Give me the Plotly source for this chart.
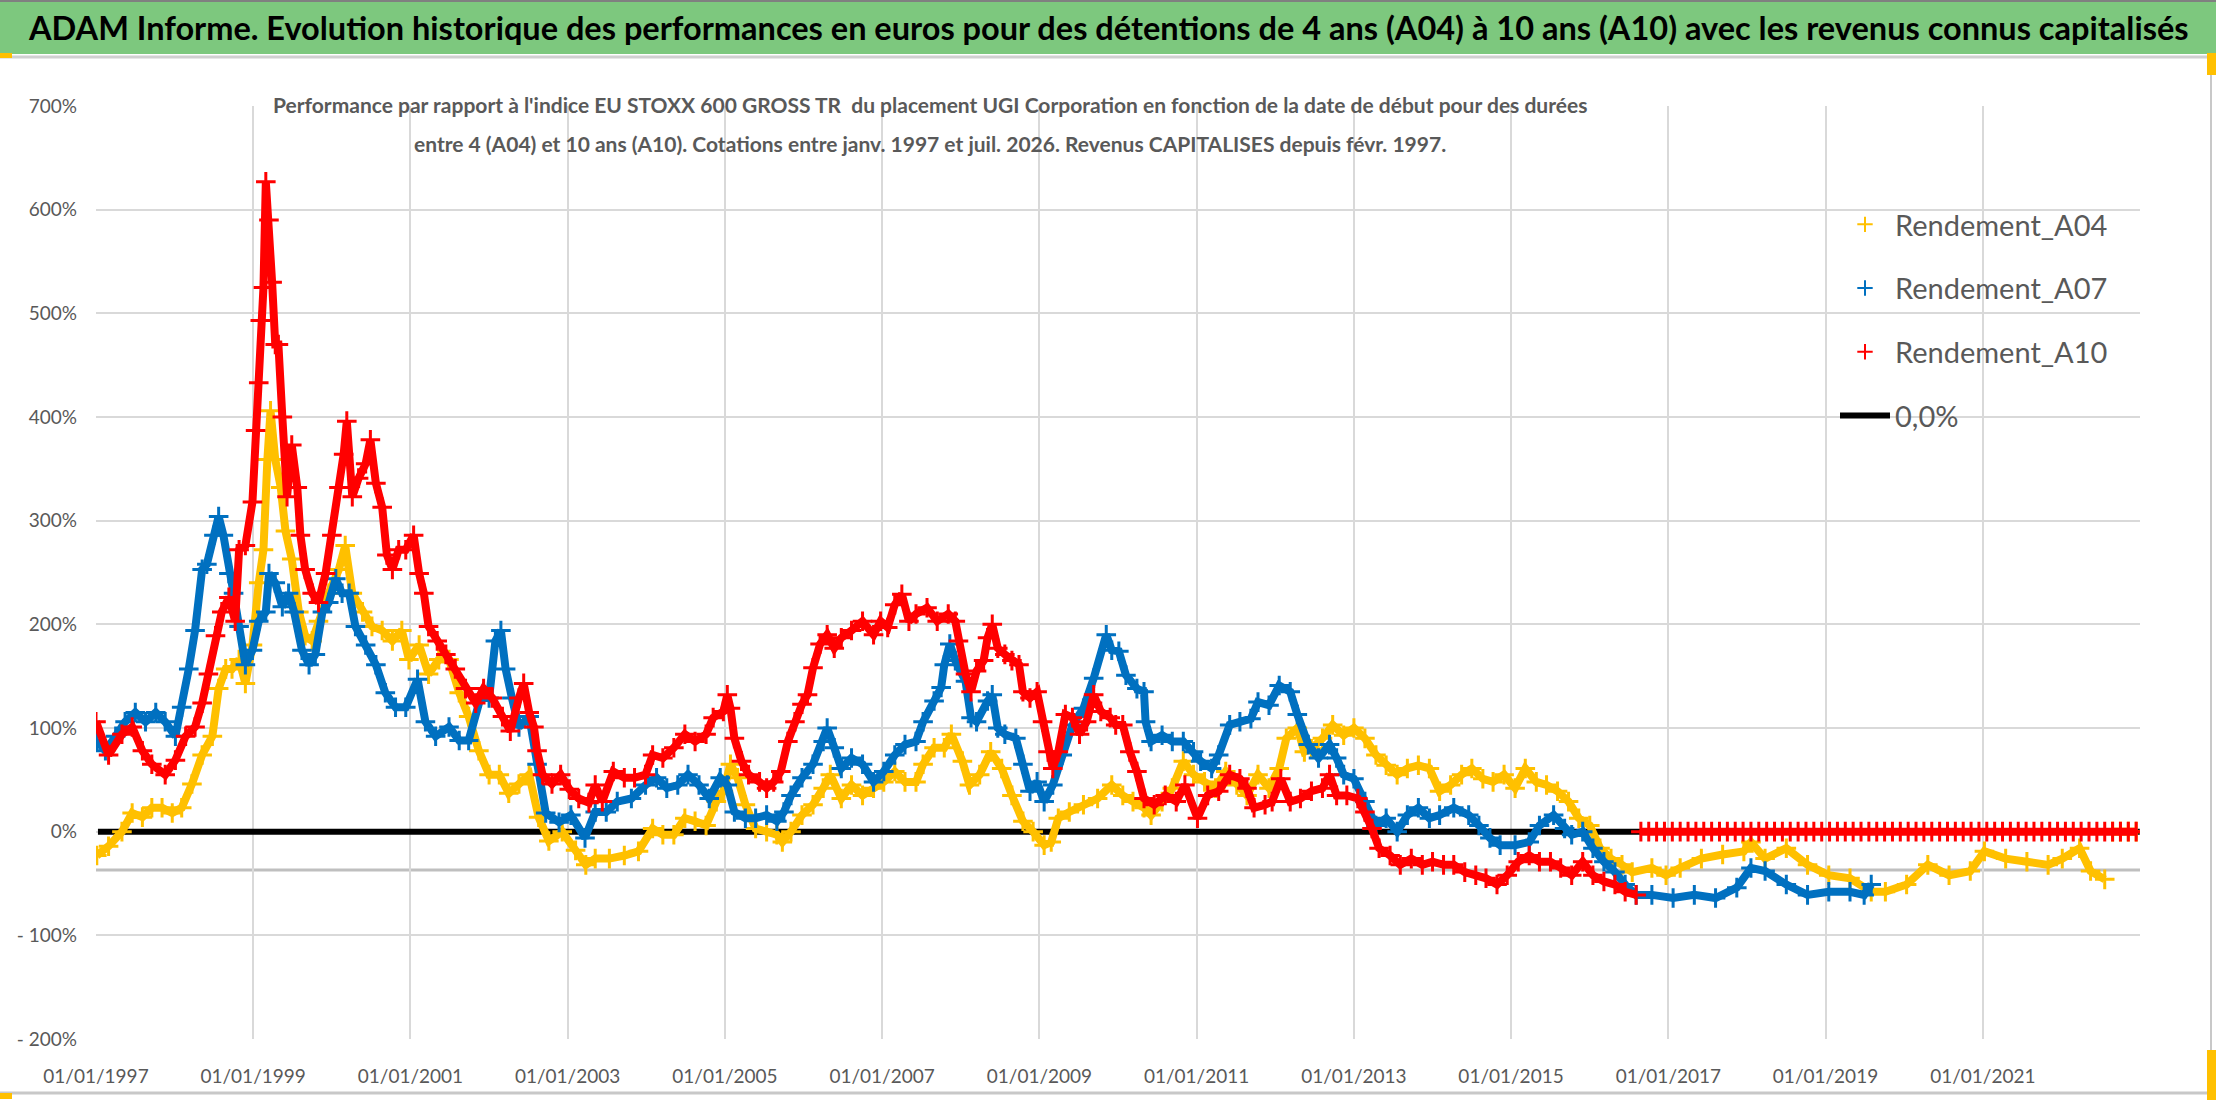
import pandas as pd
import plotly.graph_objects as go

# (years after 01/01/1997, performance in %)
a04 = [(0.01, -23), (0.16, -14), (0.33, 0), (0.46, 18), (0.59, 14), (0.71, 23), (0.84, 23), (0.97, 18),
       (1.09, 23), (1.22, 46), (1.35, 74), (1.48, 92), (1.56, 138), (1.65, 157), (1.73, 157), (1.82, 166),
       (1.90, 143), (1.99, 180), (2.07, 240), (2.13, 272), (2.18, 359), (2.22, 406), (2.28, 359), (2.35, 332),
       (2.41, 290), (2.49, 263), (2.58, 212), (2.66, 189), (2.75, 184), (2.83, 203), (2.96, 230), (3.09, 253),
       (3.17, 276), (3.26, 230), (3.39, 212), (3.51, 198), (3.64, 194), (3.77, 184), (3.89, 194), (3.98, 166),
       (4.11, 180), (4.23, 152), (4.36, 166), (4.49, 166), (4.62, 134), (4.74, 111), (4.87, 78), (5.00, 55),
       (5.13, 55), (5.25, 37), (5.38, 46), (5.51, 55), (5.63, 14), (5.76, -9), (5.93, 0), (6.10, -18),
       (6.23, -32), (6.35, -26), (6.53, -26), (6.72, -23), (6.90, -19), (7.08, 3), (7.21, -3), (7.35, -3),
       (7.49, 13), (7.62, 10), (7.76, 6), (7.89, 29), (7.98, 39), (8.07, 65), (8.16, 52), (8.26, 26),
       (8.39, 3), (8.53, 0), (8.66, -3), (8.73, -10), (8.84, 0), (8.98, 16), (9.12, 26), (9.25, 42),
       (9.34, 55), (9.48, 32), (9.61, 45), (9.75, 35), (9.89, 42), (10.02, 48), (10.16, 58), (10.29, 48),
       (10.43, 48), (10.52, 65), (10.66, 81), (10.79, 81), (10.88, 94), (11.02, 68), (11.11, 45), (11.24, 55),
       (11.38, 77), (11.52, 61), (11.65, 35), (11.79, 10), (11.92, 0), (12.06, -13), (12.15, -10), (12.24, 13),
       (12.38, 19), (12.56, 26), (12.74, 32), (12.92, 45), (13.06, 35), (13.19, 29), (13.33, 23), (13.42, 16),
       (13.56, 29), (13.69, 42), (13.83, 68), (13.96, 55), (14.10, 48), (14.24, 42), (14.37, 58), (14.51, 45),
       (14.64, 35), (14.78, 55), (14.92, 42), (15.05, 61), (15.14, 90), (15.28, 100), (15.37, 77), (15.46, 80),
       (15.60, 90), (15.73, 103), (15.87, 93), (16.00, 100), (16.14, 90), (16.28, 74), (16.41, 64), (16.55, 55),
       (16.68, 61), (16.82, 64), (16.96, 61), (17.09, 39), (17.23, 45), (17.37, 55), (17.50, 61), (17.64, 51),
       (17.77, 48), (17.91, 55), (18.05, 42), (18.18, 61), (18.32, 48), (18.45, 45), (18.59, 39), (18.73, 29),
       (18.86, 13), (19.00, 6), (19.13, -16), (19.27, -26), (19.41, -32), (19.54, -39), (19.79, -35), (19.97, -42),
       (20.15, -35), (20.42, -26), (20.69, -22), (20.96, -19), (21.05, -10), (21.23, -26), (21.50, -16), (21.77, -32),
       (22.04, -42), (22.31, -45), (22.58, -58), (22.76, -58), (23.03, -51), (23.30, -32), (23.57, -42), (23.84, -38),
       (24.02, -19), (24.29, -26), (24.56, -29), (24.83, -32), (25.01, -26), (25.23, -16), (25.37, -38), (25.55, -46)]
a04_tail = [(25.65, 0), (25.75, 0), (25.85, 0), (25.95, 0)]

a07 = [(0.01, 88), (0.12, 78), (0.25, 92), (0.37, 106), (0.50, 115), (0.63, 106), (0.76, 115), (0.88, 106),
       (1.01, 92), (1.09, 120), (1.18, 157), (1.26, 194), (1.35, 253), (1.41, 258), (1.50, 286), (1.56, 304),
       (1.62, 286), (1.69, 249), (1.75, 230), (1.82, 198), (1.90, 161), (1.99, 175), (2.07, 203), (2.16, 212),
       (2.20, 249), (2.28, 240), (2.37, 217), (2.45, 230), (2.52, 212), (2.62, 175), (2.71, 161), (2.79, 171),
       (2.88, 212), (2.96, 221), (3.05, 244), (3.13, 230), (3.22, 230), (3.30, 198), (3.43, 180), (3.56, 161),
       (3.68, 134), (3.81, 120), (3.94, 120), (4.09, 147), (4.19, 106), (4.32, 92), (4.49, 101), (4.62, 88),
       (4.74, 88), (4.89, 129), (5.00, 129), (5.08, 184), (5.15, 194), (5.21, 157), (5.29, 129), (5.38, 101),
       (5.51, 111), (5.61, 65), (5.72, 18), (5.89, 9), (6.04, 16), (6.22, -6), (6.35, 19), (6.49, 19),
       (6.63, 29), (6.81, 32), (6.99, 45), (7.13, 52), (7.26, 42), (7.40, 45), (7.53, 55), (7.67, 45),
       (7.80, 32), (7.94, 52), (8.03, 45), (8.12, 19), (8.26, 13), (8.39, 13), (8.53, 16), (8.66, 10),
       (8.75, 19), (8.84, 35), (8.98, 52), (9.12, 65), (9.25, 87), (9.30, 100), (9.39, 81), (9.48, 61),
       (9.61, 71), (9.75, 65), (9.89, 48), (10.02, 58), (10.16, 74), (10.29, 84), (10.43, 87), (10.52, 106),
       (10.66, 126), (10.75, 139), (10.79, 161), (10.86, 181), (10.93, 165), (11.06, 145), (11.13, 110), (11.20, 106),
       (11.34, 126), (11.40, 132), (11.47, 100), (11.56, 94), (11.70, 90), (11.79, 65), (11.88, 39), (11.97, 48),
       (12.06, 29), (12.17, 45), (12.29, 74), (12.42, 103), (12.56, 119), (12.69, 148), (12.85, 190), (12.92, 175),
       (13.01, 174), (13.10, 151), (13.24, 138), (13.33, 135), (13.35, 106), (13.42, 87), (13.56, 93), (13.69, 87),
       (13.83, 87), (13.96, 77), (14.05, 68), (14.19, 61), (14.28, 74), (14.42, 103), (14.55, 106), (14.69, 109),
       (14.78, 125), (14.92, 122), (15.05, 141), (15.19, 135), (15.28, 113), (15.42, 84), (15.55, 71), (15.69, 84),
       (15.78, 71), (15.87, 55), (16.00, 51), (16.14, 29), (16.28, 6), (16.41, 13), (16.55, 0), (16.68, 16),
       (16.82, 23), (16.96, 13), (17.09, 16), (17.27, 23), (17.46, 16), (17.59, 6), (17.73, -6), (17.86, -13),
       (18.05, -13), (18.23, -10), (18.36, 6), (18.54, 16), (18.68, 3), (18.77, -3), (18.91, 0), (19.04, -16),
       (19.18, -29), (19.32, -39), (19.45, -51), (19.59, -61), (19.79, -61), (20.06, -64), (20.33, -61), (20.60, -64),
       (20.87, -54), (21.05, -35), (21.23, -38), (21.50, -51), (21.77, -61), (22.04, -58), (22.31, -58), (22.49, -61),
       (22.58, -51)]

a10 = [(0.00, 106), (0.16, 74), (0.33, 94), (0.46, 101), (0.59, 78), (0.71, 65), (0.88, 55), (1.01, 69),
       (1.14, 92), (1.26, 101), (1.35, 124), (1.43, 152), (1.52, 189), (1.60, 212), (1.69, 226), (1.77, 203),
       (1.82, 272), (1.90, 276), (1.99, 318), (2.03, 387), (2.07, 433), (2.09, 493), (2.13, 525), (2.16, 627),
       (2.20, 590), (2.24, 530), (2.28, 470), (2.32, 470), (2.37, 400), (2.43, 323), (2.49, 373), (2.56, 332),
       (2.60, 286), (2.66, 253), (2.75, 230), (2.83, 221), (2.92, 249), (3.00, 286), (3.09, 332), (3.15, 364),
       (3.19, 396), (3.26, 323), (3.34, 341), (3.43, 355), (3.49, 378), (3.56, 336), (3.64, 313), (3.70, 267),
       (3.77, 253), (3.85, 272), (3.94, 272), (4.04, 286), (4.11, 249), (4.17, 230), (4.23, 198), (4.34, 184),
       (4.45, 171), (4.57, 157), (4.70, 138), (4.83, 124), (4.93, 138), (5.04, 129), (5.17, 111), (5.27, 97),
       (5.38, 129), (5.44, 143), (5.51, 115), (5.57, 101), (5.61, 78), (5.68, 55), (5.80, 46), (5.91, 55),
       (6.02, 41), (6.14, 32), (6.27, 28), (6.35, 45), (6.44, 29), (6.58, 58), (6.72, 52), (6.85, 52),
       (6.99, 55), (7.08, 74), (7.21, 71), (7.35, 81), (7.49, 94), (7.62, 87), (7.76, 94), (7.85, 110),
       (7.98, 116), (8.03, 132), (8.07, 119), (8.12, 90), (8.21, 68), (8.30, 55), (8.44, 48), (8.53, 42),
       (8.62, 48), (8.71, 58), (8.80, 87), (8.89, 106), (8.98, 123), (9.05, 132), (9.12, 158), (9.21, 181),
       (9.30, 190), (9.39, 177), (9.48, 187), (9.61, 194), (9.75, 203), (9.89, 190), (9.98, 203), (10.07, 197),
       (10.16, 219), (10.25, 229), (10.34, 203), (10.43, 210), (10.57, 216), (10.70, 203), (10.84, 210), (10.93, 203),
       (10.97, 184), (11.06, 152), (11.13, 135), (11.20, 155), (11.29, 165), (11.34, 187), (11.40, 200), (11.47, 177),
       (11.56, 171), (11.65, 165), (11.74, 161), (11.79, 135), (11.88, 129), (11.97, 135), (12.04, 106), (12.11, 77),
       (12.17, 61), (12.24, 77), (12.33, 113), (12.42, 110), (12.51, 94), (12.60, 106), (12.69, 132), (12.78, 116),
       (12.90, 110), (12.97, 103), (13.06, 103), (13.15, 77), (13.24, 58), (13.33, 32), (13.46, 26), (13.60, 35),
       (13.74, 29), (13.85, 45), (14.01, 13), (14.14, 35), (14.28, 39), (14.42, 55), (14.55, 51), (14.64, 42),
       (14.73, 23), (14.87, 26), (14.96, 29), (15.07, 51), (15.19, 29), (15.32, 32), (15.46, 39), (15.60, 42),
       (15.69, 55), (15.78, 35), (15.91, 35), (16.05, 32), (16.14, 19), (16.23, 3), (16.32, -16), (16.46, -23),
       (16.59, -32), (16.73, -26), (16.87, -32), (17.00, -29), (17.14, -32), (17.27, -32), (17.41, -39), (17.55, -42),
       (17.68, -45), (17.82, -51), (17.95, -42), (18.09, -29), (18.23, -23), (18.36, -29), (18.50, -29), (18.63, -35),
       (18.77, -42), (18.91, -29), (19.04, -42), (19.18, -48), (19.32, -51), (19.45, -58), (19.59, -61)]
a10_tail = [(19.65, 0), (19.75, 0), (19.85, 0), (19.95, 0), (20.05, 0), (20.15, 0), (20.25, 0), (20.35, 0),
            (20.45, 0), (20.55, 0), (20.65, 0), (20.75, 0), (20.85, 0), (20.95, 0), (21.05, 0), (21.15, 0),
            (21.25, 0), (21.35, 0), (21.45, 0), (21.55, 0), (21.65, 0), (21.75, 0), (21.85, 0), (21.95, 0),
            (22.05, 0), (22.15, 0), (22.25, 0), (22.35, 0), (22.45, 0), (22.55, 0), (22.65, 0), (22.75, 0),
            (22.85, 0), (22.95, 0), (23.05, 0), (23.15, 0), (23.25, 0), (23.35, 0), (23.45, 0), (23.55, 0),
            (23.65, 0), (23.75, 0), (23.85, 0), (23.95, 0), (24.05, 0), (24.15, 0), (24.25, 0), (24.35, 0),
            (24.45, 0), (24.55, 0), (24.65, 0), (24.75, 0), (24.85, 0), (24.95, 0), (25.05, 0), (25.15, 0),
            (25.25, 0), (25.35, 0), (25.45, 0), (25.55, 0), (25.65, 0), (25.75, 0), (25.85, 0), (25.95, 0)]

zero_dates = ["1997-01-10", "2022-12-31"]
zero_values = [0, 0]
axis_cross = -37

x_tick_labels = ["01/01/1997", "01/01/1999", "01/01/2001", "01/01/2003", "01/01/2005", "01/01/2007",
                 "01/01/2009", "01/01/2011", "01/01/2013", "01/01/2015", "01/01/2017", "01/01/2019",
                 "01/01/2021"]
y_tick_vals = [-200, -100, 0, 100, 200, 300, 400, 500, 600, 700]
y_tick_labels = ["- 200%", "- 100%", "0%", "100%", "200%", "300%", "400%", "500%", "600%", "700%"]

names = ["Rendement_A04", "Rendement_A07", "Rendement_A10"]
colors = ["#FFC000", "#0070C0", "#FF0000"]

title = ("ADAM Informe. Evolution historique des performances en euros pour des détentions "
         "de 4 ans (A04) à 10 ans (A10) avec les revenus connus capitalisés")
subtitle_1 = ("Performance par rapport à l'indice EU STOXX 600 GROSS TR  du placement UGI Corporation "
              "en fonction de la date de début pour des durées")
subtitle_2 = ("entre 4 (A04) et 10 ans (A10). Cotations entre janv. 1997 et juil. 2026. "
              "Revenus CAPITALISES depuis févr. 1997.")

FONT = "Lato, Roboto, sans-serif"
GREY = "#595959"

W, H = 2216, 1102
ML, MR, MT, MB = 96, 76, 106, 63
PW, PH = W - ML - MR, H - MT - MB
START = pd.Timestamp("1997-01-01")


def dates(points):
    return [START + pd.Timedelta(days=t * 365.25) for t, _ in points]


def vals(points):
    return [v for _, v in points]


def px(x):
    return (x - ML) / PW


def py(y):
    return (H - MB - y) / PH


fig = go.Figure()

fig.add_trace(go.Scatter(x=pd.to_datetime(zero_dates), y=zero_values, mode="lines",
                         line=dict(color="black", width=6), name="0,0%",
                         legendrank=4, legendgroup="zero", hoverinfo="skip"))

series = [(a04, a04_tail), (a07, None), (a10, a10_tail)]
for i, (pts, tail) in enumerate(series):
    for part in [pts, tail]:
        if part is None:
            continue
        fig.add_trace(go.Scatter(x=dates(part), y=vals(part), mode="lines+markers",
                                 line=dict(color=colors[i], width=8),
                                 marker=dict(symbol="cross-thin", size=14,
                                             line=dict(color=colors[i], width=3)),
                                 showlegend=False, hoverinfo="skip"))
    # legend entry
    fig.add_trace(go.Scatter(x=[None], y=[None], mode="markers", name=names[i],
                             marker=dict(symbol="cross-thin", size=11,
                                         line=dict(color=colors[i], width=2)),
                             legendrank=i + 1, legendgroup=names[i]))

shapes = [
    # green title band
    dict(type="rect", xref="paper", yref="paper", x0=px(0), x1=px(W), y0=py(54), y1=py(0),
         fillcolor="#7DC87E", line_width=0, layer="above"),
    dict(type="line", xref="paper", yref="paper", x0=px(0), x1=px(W), y0=py(1), y1=py(1),
         line=dict(color="#808080", width=2)),
    dict(type="line", xref="paper", yref="paper", x0=px(0), x1=px(W), y0=py(57), y1=py(57),
         line=dict(color="#D0D0D0", width=3)),
    # chart frame
    dict(type="line", xref="paper", yref="paper", x0=px(2211), x1=px(2211), y0=py(57), y1=py(1093),
         line=dict(color="#C8C8C8", width=2)),
    dict(type="line", xref="paper", yref="paper", x0=px(0), x1=px(2211), y0=py(1093), y1=py(1093),
         line=dict(color="#C8C8C8", width=3)),
    # selection handles
    dict(type="rect", xref="paper", yref="paper", x0=px(0), x1=px(12), y0=py(58), y1=py(53),
         fillcolor="#FFC000", line_width=0),
    dict(type="rect", xref="paper", yref="paper", x0=px(2207), x1=px(2216), y0=py(75), y1=py(53),
         fillcolor="#FFC000", line_width=0),
    dict(type="rect", xref="paper", yref="paper", x0=px(0), x1=px(12), y0=py(1099), y1=py(1093),
         fillcolor="#FFC000", line_width=0),
    dict(type="rect", xref="paper", yref="paper", x0=px(2207), x1=px(2216), y0=py(1100), y1=py(1050),
         fillcolor="#FFC000", line_width=0),
    # white boxes behind subtitle and legend
    dict(type="rect", xref="paper", yref="paper", x0=px(258), x1=px(1612), y0=py(172), y1=py(92),
         fillcolor="white", line_width=0, layer="between"),
    dict(type="rect", xref="paper", yref="paper", x0=px(1808), x1=px(2142), y0=py(452), y1=py(193),
         fillcolor="white", line_width=0, layer="between"),
    # horizontal axis line
    dict(type="line", xref="paper", yref="y", x0=0, x1=1, y0=axis_cross, y1=axis_cross,
         line=dict(color="#BFBFBF", width=3), layer="between"),
]

annotations = [
    dict(text="<b>" + title + "</b>", xref="paper", yref="paper", x=px(W / 2), y=py(28),
         xanchor="center", yanchor="middle", showarrow=False,
         font=dict(family=FONT, size=32.5, color="black")),
    dict(text="<b>" + subtitle_1 + "</b>", xref="paper", yref="paper", x=px(930), y=py(104),
         xanchor="center", yanchor="middle", showarrow=False,
         font=dict(family=FONT, size=21, color=GREY)),
    dict(text="<b>" + subtitle_2 + "</b>", xref="paper", yref="paper", x=px(930), y=py(143),
         xanchor="center", yanchor="middle", showarrow=False,
         font=dict(family=FONT, size=21, color=GREY)),
]

fig.update_layout(
    width=W, height=H,
    margin=dict(l=ML, r=MR, t=MT, b=MB, autoexpand=False),
    paper_bgcolor="white", plot_bgcolor="white",
    font=dict(family=FONT, color=GREY),
    shapes=shapes, annotations=annotations,
    showlegend=True,
    legend=dict(x=px(1835), y=py(199), xanchor="left", yanchor="top",
                bgcolor="rgba(0,0,0,0)", font=dict(family=FONT, size=29, color=GREY),
                itemwidth=50, tracegroupgap=23, traceorder="grouped"),
)

fig.update_xaxes(type="date", range=[START, pd.Timestamp("2023-01-01")],
                 tickvals=pd.to_datetime(x_tick_labels, format="%d/%m/%Y"), ticktext=x_tick_labels,
                 showgrid=True, gridcolor="#D9D9D9", gridwidth=2, zeroline=False, showline=False,
                 automargin=False, ticks="", ticklabelstandoff=24,
                 tickfont=dict(family=FONT, size=19, color=GREY))
fig.update_yaxes(range=[-200, 700], tickvals=y_tick_vals, ticktext=y_tick_labels,
                 showgrid=True, gridcolor="#D9D9D9", gridwidth=2, zeroline=False, showline=False,
                 automargin=False, ticks="", ticklabelstandoff=18,
                 tickfont=dict(family=FONT, size=19, color=GREY))

# the page gets no body margin so the figure sits at the window corner
fig.write_html("out.html", config={"displayModeBar": False},
               post_script="document.body.style.margin='0px';")
